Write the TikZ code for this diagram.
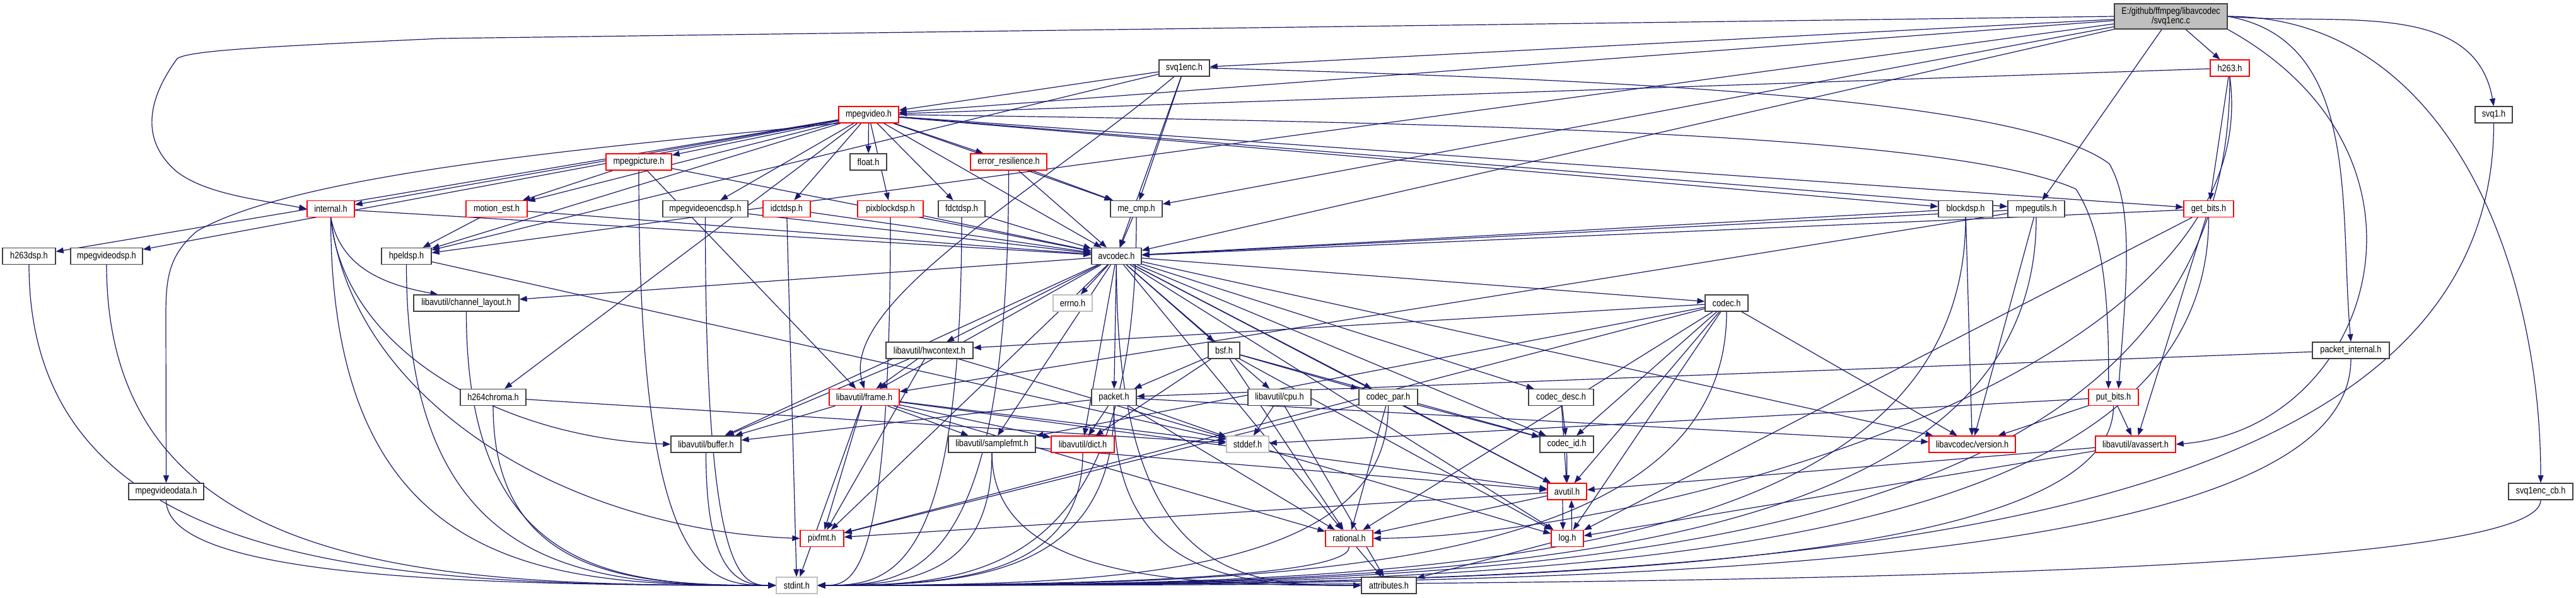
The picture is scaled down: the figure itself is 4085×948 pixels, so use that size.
\documentclass[tikz,border=0pt]{standalone}
\usepackage{fontspec}
\newfontfamily\nodefont[FakeStretch=0.85]{Liberation Sans}
\usetikzlibrary{arrows.meta,calc}
\pgfdeclarelayer{bg}
\pgfdeclarelayer{edges}
\pgfsetlayers{bg,edges,main}
\definecolor{edgec}{RGB}{25,25,112}
\definecolor{rootfill}{RGB}{191,191,191}
\definecolor{grayb}{RGB}{191,191,191}
\definecolor{darkb}{RGB}{64,64,64}
\tikzset{
  base/.style={rectangle, inner sep=0pt, minimum height=26pt, fill=white, line width=1.3pt, font=\nodefont\fontsize{15}{15}\selectfont, text=black},
  nb/.style={base, draw=darkb},
  nr/.style={base, draw=red},
  ng/.style={base, draw=grayb},
  nroot/.style={base, draw=darkb, fill=rootfill, minimum height=40pt, align=center},
  wd/.style={minimum width=#1pt},
  dep/.style={draw=edgec, line width=1.2pt, -{Triangle[length=12pt,width=9pt]}},
}
\newcommand\bundle[3]{\draw[dep] let \p1=(#1.south), \p2=(#2.#3) in (\p1) .. controls ({\x1},{\y2+12pt}) and ({0.5*\x1+0.5*\x2},{\y2}) .. (\p2);}
\begin{document}
\begin{tikzpicture}[x=1pt,y=-1pt]
\useasboundingbox (0,0) rectangle (4085,948);
\begin{pgfonlayer}{bg}
\fill[white] (0,0) rectangle (4085,948);
\end{pgfonlayer}
% nodes
\node[nroot, wd=179] (root) at (3442.5,26) {E:/github/ffmpeg/libavcodec\\/svq1enc.c};
\node[nb, wd=80] (svq1enc) at (1878,108) {svq1enc.h};
\node[nr, wd=62] (h263) at (3536,108) {h263.h};
\node[nr, wd=95] (mpegvideo) at (1377.5,182) {mpegvideo.h};
\node[nb, wd=59] (svq1) at (3954.5,182) {svq1.h};
\node[nr, wd=104] (mpegpicture) at (1013,257) {mpegpicture.h};
\node[nb, wd=58] (float) at (1377,257) {float.h};
\node[nr, wd=121] (errres) at (1599.5,257) {error\_resilience.h};
\node[nr, wd=75] (internal) at (524.5,331.5) {internal.h};
\node[nr, wd=97] (motion) at (787.5,331.5) {motion\_est.h};
\node[nb, wd=135] (mvencdsp) at (1118.5,331.5) {mpegvideoencdsp.h};
\node[nr, wd=75] (idctdsp) at (1247.5,331.5) {idctdsp.h};
\node[nr, wd=104] (pixblock) at (1412,331.5) {pixblockdsp.h};
\node[nb, wd=74] (fdctdsp) at (1525,331.5) {fdctdsp.h};
\node[nb, wd=82] (mecmp) at (1802,331.5) {me\_cmp.h};
\node[nb, wd=86] (blockdsp) at (3117,331.5) {blockdsp.h};
\node[nb, wd=90] (mpegutils) at (3229,331.5) {mpegutils.h};
\node[nr, wd=79] (getbits) at (3502.5,331.5) {get\_bits.h};
\node[nb, wd=84] (h263dsp) at (46,406.5) {h263dsp.h};
\node[nb, wd=114] (mvdsp) at (169,406.5) {mpegvideodsp.h};
\node[nb, wd=79] (hpeldsp) at (644.5,406.5) {hpeldsp.h};
\node[nb, wd=79] (avcodec) at (1770.5,406.5) {avcodec.h};
\node[nb, wd=167] (chlayout) at (739.5,481) {libavutil/channel\_layout.h};
\node[ng, wd=62] (errno) at (1701,481) {errno.h};
\node[nb, wd=68] (codec) at (2738,481) {codec.h};
\node[nb, wd=138] (hwctx) at (1474,556) {libavutil/hwcontext.h};
\node[nb, wd=50] (bsf) at (1941,556) {bsf.h};
\node[nb, wd=122] (pktint) at (3728,556) {packet\_internal.h};
\node[nb, wd=104] (h264chroma) at (782,630.5) {h264chroma.h};
\node[nr, wd=111] (frame) at (1370.5,630.5) {libavutil/frame.h};
\node[nb, wd=71] (packet) at (1766.5,630.5) {packet.h};
\node[nb, wd=100] (cpu) at (2029,630.5) {libavutil/cpu.h};
\node[nb, wd=93] (codecpar) at (2201.5,630.5) {codec\_par.h};
\node[nb, wd=103] (codecdesc) at (2475.5,630.5) {codec\_desc.h};
\node[nr, wd=79] (putbits) at (3351.5,630.5) {put\_bits.h};
\node[nb, wd=111] (buffer) at (1119.5,705) {libavutil/buffer.h};
\node[nb, wd=138] (samplefmt) at (1573,705) {libavutil/samplefmt.h};
\node[nr, wd=100] (dict) at (1717,705) {libavutil/dict.h};
\node[ng, wd=67] (stddef) at (1978.5,705) {stddef.h};
\node[nb, wd=85] (codecid) at (2484.5,705) {codec\_id.h};
\node[nr, wd=137] (version) at (3127.5,705) {libavcodec/version.h};
\node[nr, wd=127] (avassert) at (3386.5,705) {libavutil/avassert.h};
\node[nb, wd=119] (mvdata) at (263.5,780) {mpegvideodata.h};
\node[nr, wd=62] (avutil) at (2485,780) {avutil.h};
\node[nb, wd=102] (svq1cb) at (4029,780) {svq1enc\_cb.h};
\node[nr, wd=69] (pixfmt) at (1303.5,854.5) {pixfmt.h};
\node[nr, wd=75] (rational) at (2139.5,854.5) {rational.h};
\node[nr, wd=51] (log) at (2485.5,854.5) {log.h};
\node[ng, wd=65] (stdint) at (1263.5,929) {stdint.h};
\node[nb, wd=87] (attributes) at (2202.5,929) {attributes.h};
\begin{pgfonlayer}{edges}
% root
\draw[dep] (root) -- (svq1enc);
\draw[dep] (root) -- (h263);
\draw[dep] (root) -- (mpegvideo);
\draw[dep] (root.west) -- (700,61) .. controls (420,74) and (300,80) .. (281,93) .. controls (225,170) and (230,230) .. (281,273) .. controls (330,310) and (420,318) .. (internal.west);
\draw[dep] (root) -- (hpeldsp);
\draw[dep] (root) -- (avcodec);
\draw[dep] (root) -- (mecmp);
\draw[dep] (root) -- (mpegutils);
\draw[dep] (root.east) to[out=-10,in=95] (pktint.north);
\draw[dep] (root.east) to[out=-5,in=100] (svq1.north);
\draw[dep] (root.east) to[out=0,in=90] (svq1cb.north);
\draw[dep] (root.south east) .. controls (3900,250) and (3760,680) .. (avassert.east);
% svq1enc.h
\draw[dep] (svq1enc) -- (mpegvideo);
\draw[dep] (svq1enc) .. controls (1650,300) and (1330,480) .. (frame.north);
\draw[dep] (svq1enc) -- (avcodec);
\draw[dep] (svq1enc) -- (hpeldsp);
\draw[dep] (svq1enc) -- (mecmp);
\draw[dep] (svq1enc.east) .. controls (2500,125) and (3200,150) .. (3345,260) .. controls (3385,330) and (3372,450) .. ([xshift=8pt]putbits.north);
% h263.h
\draw[dep] (h263) -- (mpegvideo);
\draw[dep] (h263) -- (getbits);
\draw[dep] (h263.south) .. controls (3600,600) and (2600,850) .. (rational.east);
\bundle{h263}{stdint}{east}
% mpegvideo.h
\draw[dep] (mpegvideo) -- (float);
\draw[dep] (mpegvideo) -- (avcodec);
\draw[dep] (mpegvideo) -- (blockdsp);
\draw[dep] (mpegvideo) -- (errres);
\draw[dep] (mpegvideo) -- (fdctdsp);
\draw[dep] (mpegvideo) -- (getbits);
\draw[dep] (mpegvideo) -- (h264chroma);
\draw[dep] (mpegvideo) -- (h263dsp);
\draw[dep] (mpegvideo) -- (hpeldsp);
\draw[dep] (mpegvideo) -- (idctdsp);
\draw[dep] (mpegvideo) -- (internal);
\draw[dep] (mpegvideo) -- (mecmp);
\draw[dep] (mpegvideo) -- (motion);
\draw[dep] (mpegvideo) -- (mpegpicture);
\draw[dep] (mpegvideo) -- (mvdsp);
\draw[dep] (mpegvideo) -- (mvencdsp);
\draw[dep] (mpegvideo.south west) .. controls (1000,230) and (480,270) .. (312,367) .. controls (268,405) and (263,440) .. (263,500) -- (mvdata.north);
\draw[dep] (mpegvideo) -- (pixblock);
\draw[dep] (mpegvideo.east) .. controls (2400,195) and (3100,215) .. (3292,300) .. controls (3330,360) and (3345,450) .. ([xshift=-8pt]putbits.north);
\draw[dep] (mpegvideo) -- (mpegutils);
% mpegpicture.h
\draw[dep] (mpegpicture) -- (frame);
\draw[dep] (mpegpicture) -- (avcodec);
\draw[dep] (mpegpicture) -- (motion);
\bundle{mpegpicture}{stdint}{west}
% error_resilience.h
\bundle{errres}{stdint}{east}
\draw[dep] (errres) -- (avcodec);
\draw[dep] (errres) -- (mecmp);
% internal.h
\bundle{internal}{stdint}{west}
\draw[dep] (internal.south) .. controls (545,560) and (800,695) .. (buffer.west);
\draw[dep] (internal.south) .. controls (540,420) and (600,450) .. ([xshift=-45pt]chlayout.north);
\draw[dep] (internal.south) .. controls (560,640) and (900,840) .. (pixfmt.west);
\draw[dep] (internal) -- (avcodec);
% motion_est.h
\draw[dep] (motion) -- (avcodec);
\draw[dep] (motion) -- (hpeldsp);
% dsp headers
\bundle{mvencdsp}{stdint}{west}
\draw[dep] (mvencdsp) -- (avcodec);
\draw[dep] (idctdsp) -- (stdint);
\draw[dep] (idctdsp) -- (avcodec);
\bundle{pixblock}{stdint}{east}
\draw[dep] (pixblock) -- (avcodec);
\bundle{fdctdsp}{stdint}{east}
\draw[dep] (fdctdsp) -- (avcodec);
\bundle{mecmp}{stdint}{east}
\draw[dep] (mecmp) -- (avcodec);
\bundle{blockdsp}{stdint}{east}
\draw[dep] (blockdsp) -- (avcodec);
\draw[dep] (blockdsp) -- (version);
\bundle{mpegutils}{stdint}{east}
\draw[dep] (mpegutils) -- (frame);
\draw[dep] (mpegutils) -- (avcodec);
\draw[dep] (mpegutils) -- (version);
\bundle{getbits}{stdint}{east}
\draw[dep] (getbits) -- (log);
\draw[dep] (getbits) -- (avassert);
\draw[dep] (getbits) -- (avcodec);
\bundle{h263dsp}{stdint}{west}
\bundle{mvdsp}{stdint}{west}
\bundle{hpeldsp}{stdint}{west}
\draw[dep] (hpeldsp) -- (stddef);
\bundle{h264chroma}{stdint}{west}
\draw[dep] (h264chroma) -- (stddef);
\bundle{mvdata}{stdint}{west}
\bundle{chlayout}{stdint}{west}
\bundle{svq1}{stdint}{east}
\bundle{svq1cb}{stdint}{east}
\bundle{putbits}{stdint}{east}
\draw[dep] (putbits) -- (stddef);
\draw[dep] (putbits) -- (avassert);
\draw[dep] (putbits) -- (version);
\bundle{pktint}{stdint}{east}
\draw[dep] (pktint) -- (packet);
% avcodec.h
\draw[dep] (avcodec) -- (errno);
\draw[dep] (avcodec) -- (samplefmt);
\bundle{avcodec}{attributes}{west}
\draw[dep] (avcodec) -- (avutil);
\draw[dep] (avcodec) -- (buffer);
\draw[dep] (avcodec) -- (cpu);
\draw[dep] (avcodec) -- (chlayout);
\draw[dep] (avcodec) -- (dict);
\draw[dep] (avcodec) -- (frame);
\draw[dep] (avcodec) -- (hwctx);
\draw[dep] (avcodec) -- (log);
\draw[dep] (avcodec) -- (pixfmt);
\draw[dep] (avcodec) -- (rational);
\draw[dep] (avcodec) -- (bsf);
\draw[dep] (avcodec) -- (codec);
\draw[dep] (avcodec) -- (codecdesc);
\draw[dep] (avcodec) -- (codecpar);
\draw[dep] (avcodec) -- (codecid);
\draw[dep] (avcodec) -- (packet);
\draw[dep] (avcodec) -- (version);
% codec.h
\bundle{codec}{stdint}{east}
\draw[dep] (codec) -- (avutil);
\draw[dep] (codec) -- (hwctx);
\draw[dep] (codec) -- (log);
\draw[dep] (codec) -- (pixfmt);
\draw[dep] (codec) -- (rational);
\draw[dep] (codec) -- (samplefmt);
\draw[dep] (codec) -- (codecid);
\draw[dep] (codec) -- (version);
% hwcontext
\draw[dep] (hwctx) -- (buffer);
\draw[dep] (hwctx) -- (frame);
\draw[dep] (hwctx) -- (log);
\draw[dep] (hwctx) -- (pixfmt);
% bsf
\draw[dep] (bsf) -- (dict);
\draw[dep] (bsf) -- (log);
\draw[dep] (bsf) -- (rational);
\draw[dep] (bsf) -- (codecid);
\draw[dep] (bsf) -- (codecpar);
\draw[dep] (bsf) -- (packet);
% frame
\draw[dep] (frame) -- (stddef);
\draw[dep] (frame) -- (stdint);
\draw[dep] (frame) -- (avutil);
\draw[dep] (frame) -- (buffer);
\draw[dep] (frame) -- (dict);
\draw[dep] (frame) -- (rational);
\draw[dep] (frame) -- (samplefmt);
\draw[dep] (frame) -- (pixfmt);
% packet
\draw[dep] (packet) -- (stddef);
\bundle{packet}{stdint}{east}
\bundle{packet}{attributes}{west}
\draw[dep] (packet) -- (buffer);
\draw[dep] (packet) -- (dict);
\draw[dep] (packet) -- (rational);
\draw[dep] (packet) -- (version);
% cpu
\draw[dep] (cpu) -- (stddef);
\draw[dep] (cpu) -- (attributes);
% codec_par
\bundle{codecpar}{stdint}{east}
\draw[dep] (codecpar) -- (avutil);
\draw[dep] (codecpar) -- (rational);
\draw[dep] (codecpar) -- (pixfmt);
\draw[dep] (codecpar) -- (codecid);
% codec_desc, codec_id
\draw[dep] (codecdesc) -- (avutil);
\draw[dep] (codecdesc) -- (codecid);
\draw[dep] (codecid) -- (avutil);
% libavutil
\bundle{buffer}{stdint}{west}
\bundle{samplefmt}{stdint}{east}
\draw[dep] (samplefmt) -- (avutil);
\bundle{samplefmt}{attributes}{west}
\bundle{dict}{stdint}{east}
\draw[dep] (avassert) -- (avutil);
\draw[dep] (avassert) -- (log);
\draw[dep] (avutil) -- (rational);
\draw[dep] ([xshift=-7pt]avutil.south) -- ([xshift=-7pt]log.north);
\draw[dep] (avutil) -- (pixfmt);
\draw[dep] ([xshift=7pt]log.north) -- ([xshift=7pt]avutil.south);
\draw[dep] (log) -- (attributes);
\bundle{rational}{stdint}{east}
\draw[dep] (rational) -- (attributes);
\end{pgfonlayer}
\end{tikzpicture}
\end{document}
